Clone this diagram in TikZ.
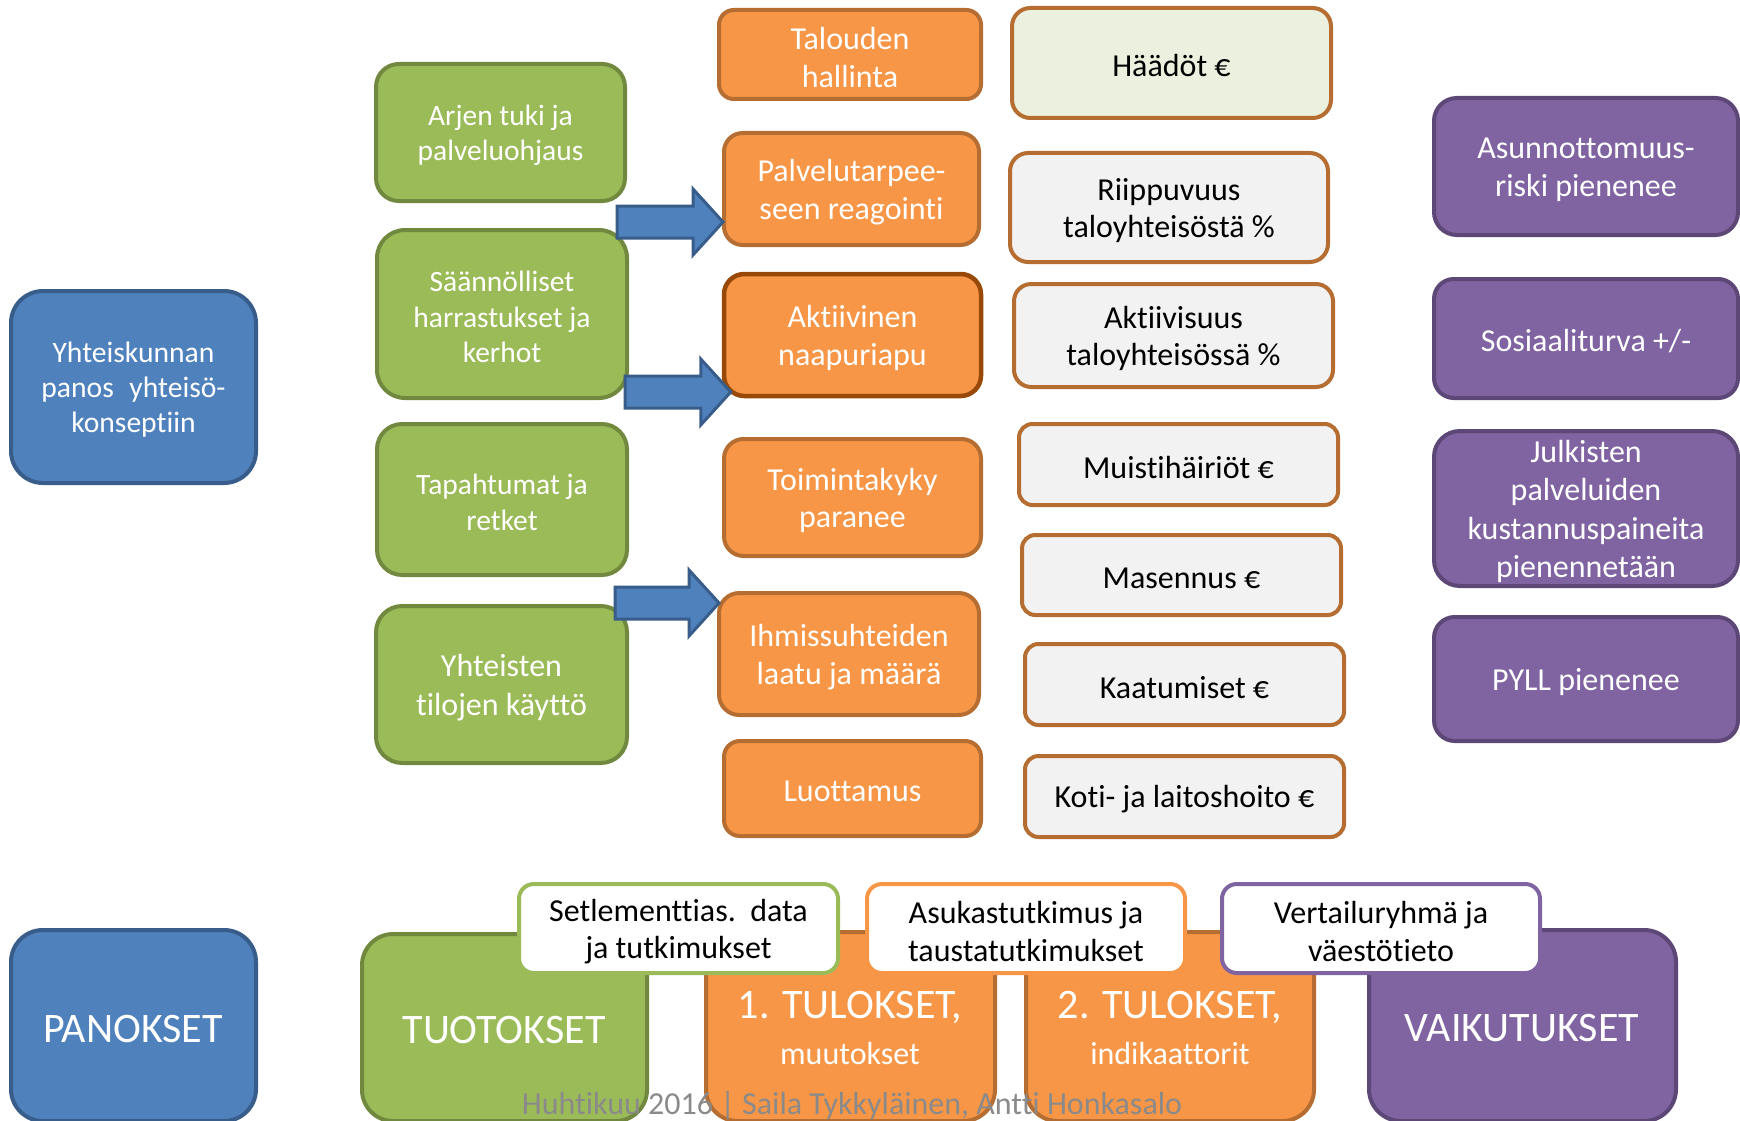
\documentclass[tikz,border=0pt]{standalone}
\usepackage{fontspec}
\setmainfont{Carlito}[Ligatures=NoCommon]
\usetikzlibrary{calc}
\definecolor{bluF}{HTML}{4F81BD}
\definecolor{bluD}{HTML}{385D8A}
\definecolor{grnF}{HTML}{9BBB59}
\definecolor{grnD}{HTML}{71893F}
\definecolor{orgF}{HTML}{F79646}
\definecolor{orgD}{HTML}{B66D31}
\definecolor{orgDD}{HTML}{984807}
\definecolor{purF}{HTML}{8064A2}
\definecolor{purD}{HTML}{5C4776}
\definecolor{lgrey}{HTML}{F2F2F2}
\definecolor{lgreen}{HTML}{EBF1DE}
\definecolor{ftgray}{HTML}{8A8A8A}
\newcommand\fs[2]{\fontsize{#1}{#2}\selectfont}
% box: name, x1, y1, x2, y2, style, text
\newcommand\rbox[7]{%
  \node[#6, rounded corners={min(#4-#2,#5-#3)/6}, minimum width={#4-#2}, minimum height={#5-#3}]
    (#1) at ({(#2+#4)/2},{(#3+#5)/2}) {};
  \node[#6, draw=none, fill=none] (#1-t) at ([yshift=-3pt]#1.center) {#7};}
\newcommand\blkarrow[2]{%
  \path let \p1=(#1), \p2=(#2) in [blkarr]
    (\x1,{\y1+16pt}) -- ({\x2-30pt},{\y1+16pt}) -- ({\x2-30pt},{\y1+33pt}) -- (\x2,\y1)
    -- ({\x2-30pt},{\y1-33pt}) -- ({\x2-30pt},{\y1-16pt}) -- (\x1,{\y1-16pt}) -- cycle;}
\tikzset{
  boxbase/.style={draw, line width=4pt, align=center, inner sep=0pt},
  bluebox/.style={boxbase, fill=bluF, draw=bluD, text=white, font=\fs{29.6}{35}},
  greenbox/.style={boxbase, fill=grnF, draw=grnD, text=white, font=\fs{29.5}{35.5}},
  orangebox/.style={boxbase, fill=orgF, draw=orgD, text=white, font=\fs{32}{37.7}},
  greybox/.style={boxbase, fill=lgrey, draw=orgD, text=black, font=\fs{32}{37.7}},
  purplebox/.style={boxbase, fill=purF, draw=purD, text=white, font=\fs{32}{38.3}},
  tagbox/.style={boxbase, fill=white, text=black, font=\fs{32}{37.7}},
  bigtext/.style={text=white, inner sep=0pt, font=\fs{42}{46}},
  smalltext/.style={text=white, inner sep=0pt, font=\fs{32}{36}},
  blkarr/.style={fill=bluF, draw=bluD, line width=3pt, line join=miter},
  footer/.style={text=ftgray, inner sep=0pt, font=\fs{32}{36}}
}
\begin{document}
\begin{tikzpicture}[x=1pt,y=-1pt]
\clip (0,0) rectangle (1740,1121);
\fill[white] (0,0) rectangle (1740,1121);
% inputs
\rbox{yht}{11}{291}{256}{483}{bluebox}{Yhteiskunnan\\panos\hspace{0.3em} yhteisö-\\konseptiin}
% outputs
\rbox{arj}{376}{64}{625}{201}{greenbox}{Arjen tuki ja\\palveluohjaus}
\rbox{saa}{377}{230}{627}{398}{greenbox}{Säännölliset\\harrastukset ja\\kerhot}
\rbox{tap}{377}{424}{627}{575}{greenbox}{Tapahtumat ja\\retket}
\rbox{yhs}{376}{606}{627}{763}{greenbox, font=\fs{32}{38.8}}{Yhteisten\\tilojen käyttö}
% results 1
\rbox{tal}{719}{10}{981}{99}{orangebox}{Talouden\\hallinta}
\rbox{pal}{724}{133}{979}{245}{orangebox}{Palvelutarpee-\\seen reagointi}
\rbox{akt}{724}{274}{981}{396}{orangebox, draw=orgDD, line width=4.5pt}{Aktiivinen\\naapuriapu}
\rbox{toi}{724}{439}{981}{556}{orangebox}{Toimintakyky\\paranee}
\rbox{ihm}{719}{593}{979}{715}{orangebox}{Ihmissuhteiden\\laatu ja määrä}
\rbox{luo}{724}{741}{981}{836}{orangebox}{Luottamus}
% results 2
\rbox{haa}{1012}{8}{1331}{118}{greybox, fill=lgreen}{Häädöt €}
\rbox{rii}{1010}{153}{1328}{262}{greybox}{Riippuvuus\\taloyhteisöstä \%}
\rbox{akv}{1014}{284}{1333}{387}{greybox}{Aktiivisuus\\taloyhteisössä \%}
\rbox{mui}{1019}{424}{1338}{505}{greybox}{Muistihäiriöt €}
\rbox{mas}{1022}{535}{1341}{615}{greybox}{Masennus €}
\rbox{kaa}{1025}{644}{1344}{725}{greybox}{Kaatumiset €}
\rbox{kot}{1025}{756}{1344}{837}{greybox}{Koti- ja laitoshoito €}
% impacts
\rbox{asu}{1434}{98}{1738}{235}{purplebox}{Asunnottomuus-\\riski pienenee}
\rbox{sos}{1434}{279}{1738}{398}{purplebox}{Sosiaaliturva +/-}
\rbox{jul}{1434}{431}{1738}{586}{purplebox}{Julkisten\\palveluiden\\kustannuspaineita\\pienennetään}
\rbox{pyl}{1434}{617}{1738}{741}{purplebox}{PYLL pienenee}
% bottom row
\rbox{pan}{11}{930}{256}{1121}{bluebox}{}
\rbox{tuo}{362}{934}{647}{1121}{greenbox}{}
\rbox{tu1}{706}{932}{995}{1121}{orangebox}{}
\rbox{tu2}{1026}{932}{1314}{1121}{orangebox}{}
\rbox{vai}{1369}{930}{1676}{1121}{purplebox}{}
\node[bigtext] (pant) at (133,1029) {PANOKSET};
\node[bigtext] (tuot) at (504,1030) {TUOTOKSET};
\node[bigtext] (tu1a) at (850,1008) {1. TULOKSET,};
\node[smalltext] (tu1b) at (850,1053) {muutokset};
\node[bigtext] (tu2a) at (1170,1008) {2. TULOKSET,};
\node[smalltext] (tu2b) at (1170,1053) {indikaattorit};
\node[bigtext] (vait) at (1522,1028) {VAIKUTUKSET};
% source tags
\rbox{set}{519}{884}{838}{973}{tagbox, draw=grnF}{Setlementtias.\hspace{0.45em}data\\ja tutkimukset}
\rbox{ask}{867}{884}{1185}{973}{tagbox, draw=orgF}{Asukastutkimus ja\\taustatutkimukset}
\rbox{ver}{1222}{884}{1540}{973}{tagbox, draw=purF}{Vertailuryhmä ja\\väestötieto}
% block arrows
\coordinate (a1s) at (617,222);
\coordinate (a2s) at (625,392);
\coordinate (a3s) at (615,603);
\blkarrow{a1s}{[xshift=1pt]pal.west |- a1s}
\blkarrow{a2s}{[xshift=9pt]akt.west |- a2s}
\blkarrow{a3s}{[xshift=2pt]ihm.west |- a3s}
% footer
\node[footer] (foot) at (852,1106) {Huhtikuu 2016 | Saila Tykkyläinen, Antti Honkasalo};
\end{tikzpicture}
\end{document}
